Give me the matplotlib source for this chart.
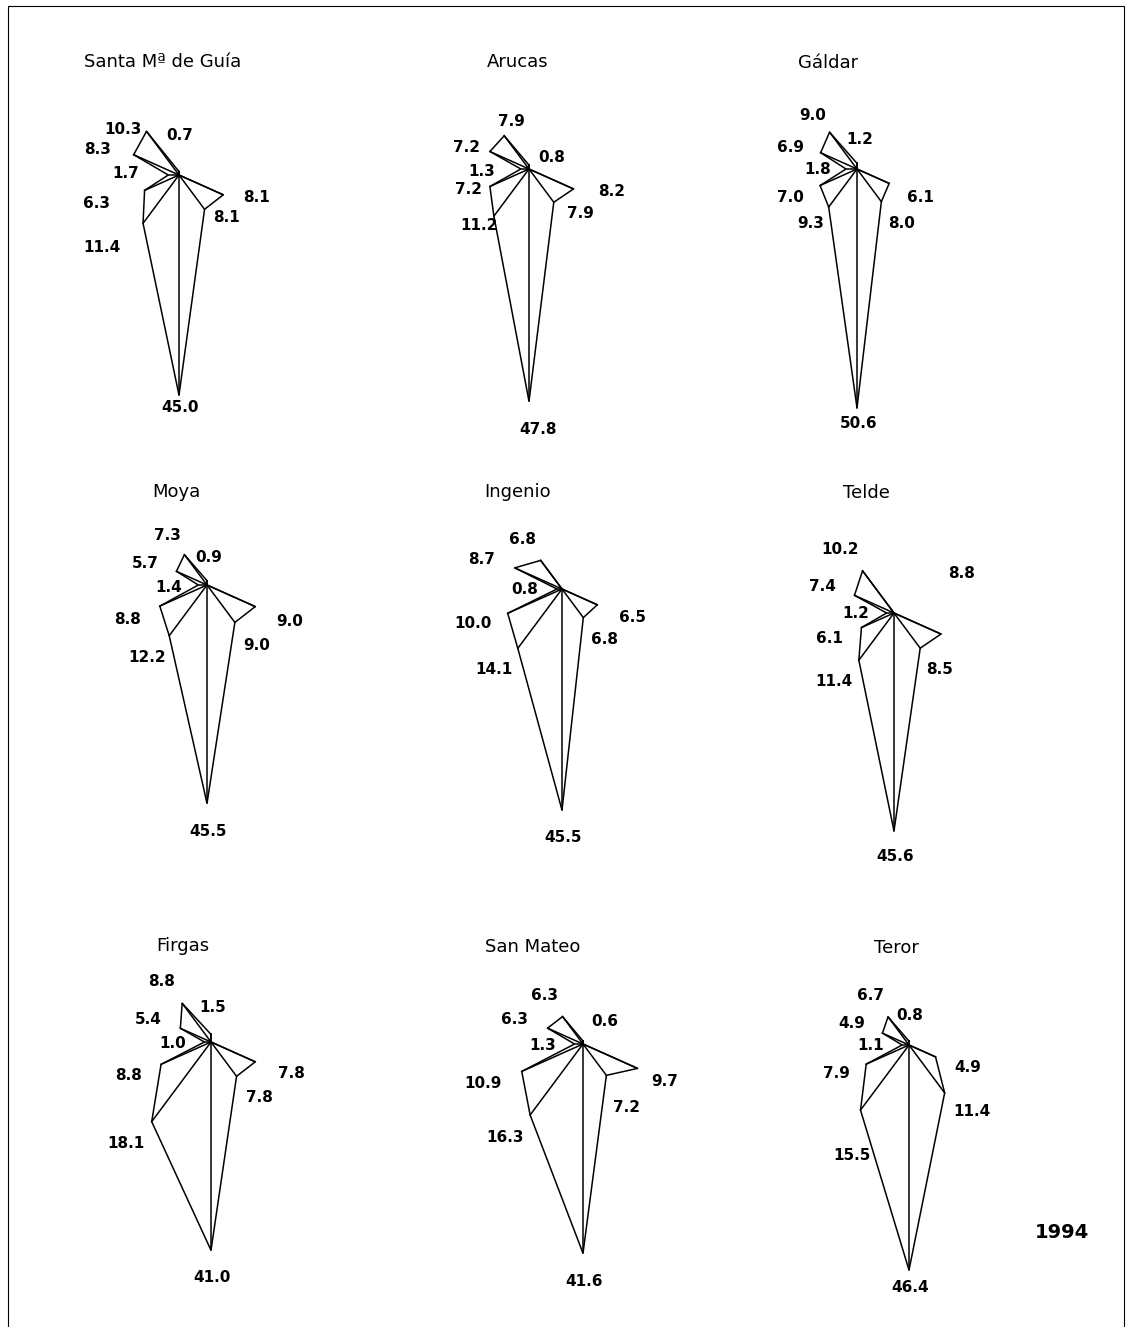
import numpy as np
import matplotlib
matplotlib.use('Agg')
import matplotlib.pyplot as plt
from matplotlib.patches import Rectangle

# -----------------------------------------------------------------------
# Data: 12 spokes, clockwise starting at the top (0, 30, 60 ... 330 deg)
# -----------------------------------------------------------------------
MUNICIPIOS = ["Santa Mª de Guía", "Arucas", "Gáldar",
              "Moya", "Ingenio", "Telde",
              "Firgas", "San Mateo", "Teror"]

SANTA_MARIA = [0.7, 0, 0, 0, 8.1, 8.1, 45.0, 11.4, 6.3, 1.7, 8.3, 10.3]
ARUCAS      = [0.8, 0, 0, 0, 8.2, 7.9, 47.8, 11.2, 7.2, 1.3, 7.2, 7.9]
GALDAR      = [1.2, 0, 0, 0, 6.1, 8.0, 50.6, 9.3, 7.0, 1.8, 6.9, 9.0]
MOYA        = [0.9, 0, 0, 0, 9.0, 9.0, 45.5, 12.2, 8.8, 1.4, 5.7, 7.3]
INGENIO     = [0.0, 0, 0, 0, 6.5, 6.8, 45.5, 14.1, 10.0, 0.8, 8.7, 6.8]
TELDE       = [0.0, 0, 0, 0, 8.8, 8.5, 45.6, 11.4, 6.1, 1.2, 7.4, 10.2]
FIRGAS      = [1.5, 0, 0, 0, 7.8, 7.8, 41.0, 18.1, 8.8, 1.0, 5.4, 8.8]
SAN_MATEO   = [0.6, 0, 0, 0, 9.7, 7.2, 41.6, 16.3, 10.9, 1.3, 6.3, 6.3]
TEROR       = [0.8, 0, 0, 0, 4.9, 11.4, 46.4, 15.5, 7.9, 1.1, 4.9, 6.7]

SERIES = [SANTA_MARIA, ARUCAS, GALDAR, MOYA, INGENIO, TELDE,
          FIRGAS, SAN_MATEO, TEROR]

YEAR = "1994"

# -----------------------------------------------------------------------
# Layout (pixels in a 1127x1327 canvas)
# -----------------------------------------------------------------------
W, H = 1127, 1327
STRETCH = 1.29            # the original page is stretched sideways

CENTERS = [(179, 175), (529, 169), (857, 169),
           (207, 585), (562, 589), (894, 613),
           (211, 1042), (583, 1044), (909, 1045)]
# vertical pixels per unit for each star
SCALES = [4.89, 4.86, 4.72, 4.80, 4.86, 4.78, 5.08, 5.03, 4.85]
TITLE_POS = [(163, 62), (518, 62), (828, 63),
             (176, 492), (518, 492), (866, 493),
             (183, 946), (533, 947), (896, 948)]

# label offsets (px from the chart centre), one per spoke, None = no label
LABEL_OFFSETS = [
    [(1, -39), None, None, None, (78, 22), (47, 42), (1, 233), (-77, 72), (-83, 29), (-53, -1), (-81, -25), (-56, -45)],
    [(23, -12), None, None, None, (83, 23), (51, 45), (9, 261), (-50, 56), (-61, 20), (-47, 3), (-62, -22), (-18, -48)],
    [(3, -29), None, None, None, (63, 28), (45, 55), (2, 255), (-46, 55), (-67, 28), (-39, 1), (-66, -22), (-44, -53)],
    [(2, -28), None, None, None, (83, 36), (50, 61), (1, 246), (-60, 72), (-79, 34), (-38, 2), (-62, -21), (-40, -49)],
    [None, None, None, None, (70, 28), (43, 50), (1, 248), (-68, 80), (-89, 35), (-37, 0), (-80, -30), (-39, -49)],
    [None, None, None, None, (68, -39), (46, 57), (1, 244), (-60, 69), (-65, 26), (-38, 1), (-72, -26), (-54, -63)],
    [(2, -34), None, None, None, (80, 32), (48, 56), (1, 236), (-85, 101), (-82, 34), (-38, 1), (-63, -23), (-49, -61)],
    [(22, -23), None, None, None, (82, 38), (44, 63), (1, 237), (-78, 93), (-100, 39), (-40, 2), (-68, -25), (-39, -48)],
    [(1, -29), None, None, None, (59, 22), (63, 67), (1, 242), (-57, 111), (-73, 29), (-38, 1), (-57, -21), (-39, -49)],
]

ANGLES = np.deg2rad(np.arange(0, 360, 30))
HALF_W, HALF_H = 25, 60   # axes half extent in data units

fig = plt.figure(figsize=(W / 100, H / 100), dpi=100)
fig.patch.set_facecolor('white')

for name, vals, (cx, cy), sy, (tx, ty), offs in zip(MUNICIPIOS, SERIES, CENTERS, SCALES,
                                                   TITLE_POS, LABEL_OFFSETS):
    sx = sy * STRETCH
    aw, ah = 2 * HALF_W * sx, 2 * HALF_H * sy
    ax = fig.add_axes([(cx - aw / 2) / W, 1 - (cy + ah / 2) / H, aw / W, ah / H])
    ax.set_xlim(-HALF_W, HALF_W)
    ax.set_ylim(-HALF_H, HALF_H)
    ax.axis('off')

    v = np.array(vals, dtype=float)
    x = v * np.sin(ANGLES)
    y = v * np.cos(ANGLES)

    # outline
    ax.plot(np.append(x, x[0]), np.append(y, y[0]), color='black', lw=1.1,
            solid_joinstyle='miter')
    # spokes
    for xi, yi, vi in zip(x, y, v):
        if vi > 0:
            ax.plot([0, xi], [0, yi], color='black', lw=1.1)

    # value labels
    for vi, off in zip(v, offs):
        if off is None or vi <= 0:
            continue
        ax.annotate(f'{vi:.1f}', xy=(0, 0), xytext=(off[0] * 0.72, -off[1] * 0.72),
                    textcoords='offset points', ha='center', va='center',
                    fontsize=11, fontweight='bold', family='DejaVu Sans',
                    color='black', annotation_clip=False)

    fig.text(tx / W, 1 - ty / H, name, ha='center', va='center',
             fontsize=13, family='DejaVu Sans', color='black')

fig.text(1062 / W, 1 - 1232 / H, YEAR, ha='center', va='center',
         fontsize=14, fontweight='bold', family='DejaVu Sans')

# page frame
fig.add_artist(Rectangle((8 / W, -0.01), (1124 - 8) / W, 1.01 - 6 / H,
                         transform=fig.transFigure, fill=False,
                         edgecolor='black', lw=0.8))

fig.savefig('out.png', dpi=100)
